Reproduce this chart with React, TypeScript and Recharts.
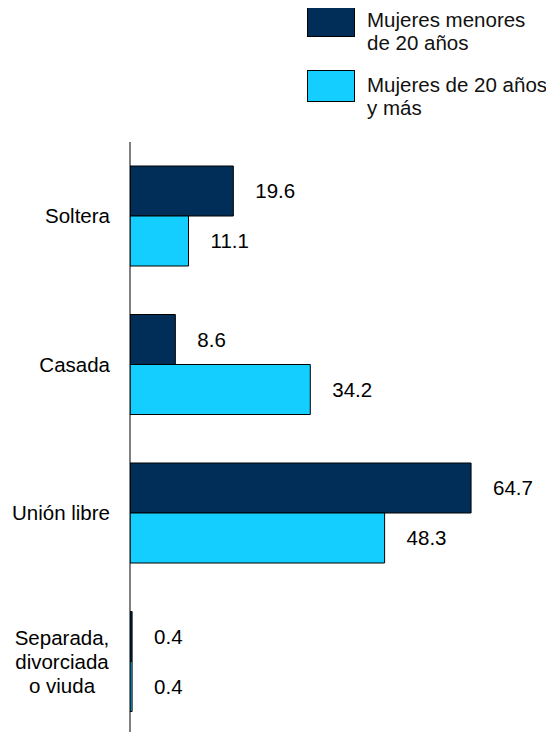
import { Bar, BarChart, LabelList, Legend, XAxis, YAxis } from "recharts";

const categories = ["Soltera", "Casada", "Unión libre", "Separada,\ndivorciada\no viuda"];
const menores20 = [19.6, 8.6, 64.7, 0.4];
const mayores20 = [11.1, 34.2, 48.3, 0.4];
const seriesNames = ["Mujeres menores\nde 20 años", "Mujeres de 20 años\ny más"];
const seriesColors = ["#002E58", "#14CEFF"];

const chartData = categories.map((name, i) => ({
  name,
  menores: menores20[i],
  mayores: mayores20[i],
}));

const FONT = "'Liberation Sans', Arial, sans-serif";
const FS = 20.5;

function CategoryTick(props: any) {
  const { x, y, payload } = props;
  const lines: string[] = String(payload.value).split("\n");
  if (lines.length === 1) {
    return (
      <text x={x} y={y} dy="0.35em" textAnchor="end" fontSize={FS} fontFamily={FONT} fill="#000">
        {lines[0]}
      </text>
    );
  }
  // multi-line labels are centred as a block, right edge at the tick x
  const cx = x - 48;
  const start = y - ((lines.length - 1) * 24) / 2;
  return (
    <text textAnchor="middle" fontSize={FS} fontFamily={FONT} fill="#000">
      {lines.map((l, i) => (
        <tspan key={i} x={cx} y={start + i * 24} dy="0.35em">
          {l}
        </tspan>
      ))}
    </text>
  );
}

function LegendBox() {
  return (
    <div style={{ position: "relative", width: 254, height: 130, fontFamily: FONT, fontSize: FS }}>
      {seriesNames.map((n, i) => (
        <div key={n}>
          <div
            style={{
              position: "absolute",
              left: 7,
              top: 5 + i * 65,
              width: 46,
              height: 30,
              background: seriesColors[i],
              border: "1px solid #000",
            }}
          />
          <div
            style={{
              position: "absolute",
              left: 67,
              top: 8 + i * 65,
              lineHeight: "23px",
              whiteSpace: "pre",
              color: "#111",
              textAlign: "left",
            }}
          >
            {n}
          </div>
        </div>
      ))}
    </div>
  );
}

export default function App() {
  return (
    <div style={{ position: "relative", marginTop: -8, marginLeft: -8, width: 554, height: 745 }}>
      <span
        style={{
          position: "absolute",
          left: 21,
          top: -18,
          fontFamily: FONT,
          fontSize: FS,
          lineHeight: `${FS}px`,
        }}
      >
        y
      </span>
      <BarChart
        width={554}
        height={745}
        data={chartData}
        layout="vertical"
        margin={{ top: 142, right: 55, left: 0, bottom: 9 }}
        barCategoryGap={24}
        barGap={0}
      >
        <XAxis type="number" domain={[0, 70]} allowDataOverflow hide />
        <YAxis
          type="category"
          dataKey="name"
          width={130}
          axisLine={{ stroke: "#000" }}
          tickLine={false}
          tickSize={0}
          tickMargin={20}
          tick={<CategoryTick />}
          interval={0}
        />
        <Legend
          layout="horizontal"
          verticalAlign="middle"
          align="center"
          content={() => <LegendBox />}
          wrapperStyle={{ position: "absolute", top: 0, left: 300, width: 254 }}
        />
        <Bar dataKey="menores" name={seriesNames[0]} fill={seriesColors[0]} stroke="#000" strokeWidth={1} isAnimationActive={false}>
          <LabelList dataKey="menores" position="right" offset={22} fill="#000" fontSize={FS} fontFamily={FONT} />
        </Bar>
        <Bar dataKey="mayores" name={seriesNames[1]} fill={seriesColors[1]} stroke="#000" strokeWidth={1} isAnimationActive={false}>
          <LabelList dataKey="mayores" position="right" offset={22} fill="#000" fontSize={FS} fontFamily={FONT} />
        </Bar>
      </BarChart>
    </div>
  );
}
